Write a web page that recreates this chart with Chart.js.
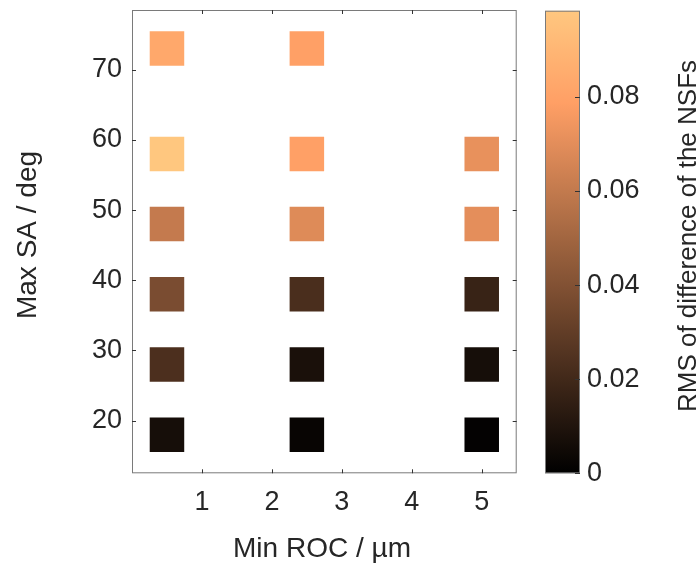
<!DOCTYPE html>
<html><head><meta charset="utf-8">
<script src="https://cdn.jsdelivr.net/npm/chart.js@4/dist/chart.umd.min.js"></script>
<style>
html,body{margin:0;padding:0;background:#fff;}
#wrap{position:relative;width:699px;height:565px;overflow:hidden;}
#c1{position:absolute;left:0;top:0;}
#c2{position:absolute;left:530px;top:0;}
</style></head><body>
<div id="wrap"><canvas id="c1" width="530" height="565"></canvas><canvas id="c2" width="169" height="565"></canvas></div>
<script>
// ---- data ----
const minROC  = [0.5, 0.5, 0.5, 0.5, 0.5, 0.5,  2.5, 2.5, 2.5, 2.5, 2.5, 2.5,  5, 5, 5, 5, 5];
const maxSA   = [18, 28, 38, 48, 58, 73,  18, 28, 38, 48, 58, 73,  18, 28, 38, 48, 58];
const rmsDiff = [0.0068, 0.0234, 0.0376, 0.0604, 0.0983, 0.0830,
                 0.0025, 0.0080, 0.0228, 0.0685, 0.0790, 0.0790,
                 0.0012, 0.0068, 0.0173, 0.0703, 0.0715];
const xTicks = [1, 2, 3, 4, 5];
const yTicks = [20, 30, 40, 50, 60, 70];
const cTicks = [0, 0.02, 0.04, 0.06, 0.08];
const xLabel = 'Min ROC / µm';
const yLabel = 'Max SA / deg';
const cLabel = 'RMS of difference of the NSFs';
const cMin = 0, cMax = 0.0983;

// ---- style ----
const FONT = "'Liberation Sans', Arial, Helvetica, sans-serif";
const TXT = '#262626';
const BOX = '#7a7a7a';
const TICK = '#333333';
const TICK_FS = 27, TITLE_FS = 28, CB_TITLE_FS = 26;
Chart.defaults.font.family = FONT;
Chart.defaults.color = TXT;
Chart.defaults.animation = false;

function copper(v) {
  const t = Math.max(0, Math.min(1, (v - cMin) / (cMax - cMin)));
  const r = Math.min(1, 1.25 * t), g = 0.7812 * t, b = 0.4975 * t;
  return `rgb(${Math.round(r*255)},${Math.round(g*255)},${Math.round(b*255)})`;
}
function noPad(s) { s.paddingTop = 0; s.paddingBottom = 0; s.paddingLeft = 0; s.paddingRight = 0; }

const boxPlugin = {
  id: 'boxPlugin',
  afterDraw(chart) {
    const {ctx, chartArea: a, scales} = chart;
    ctx.save();
    ctx.strokeStyle = BOX; ctx.lineWidth = 1;
    ctx.strokeRect(a.left + 0.5, a.top + 0.5, a.right - a.left - 1, a.bottom - a.top - 1);
    ctx.strokeStyle = TICK; ctx.beginPath();
    const L = 4;
    xTicks.forEach(v => {
      const px = Math.round(scales.x.getPixelForValue(v)) + 0.5;
      ctx.moveTo(px, a.bottom); ctx.lineTo(px, a.bottom - L);
      ctx.moveTo(px, a.top); ctx.lineTo(px, a.top + L);
    });
    yTicks.forEach(v => {
      const py = Math.round(scales.y.getPixelForValue(v)) + 0.5;
      ctx.moveTo(a.left, py); ctx.lineTo(a.left + L, py);
      ctx.moveTo(a.right, py); ctx.lineTo(a.right - L, py);
    });
    ctx.stroke();
    // titles
    ctx.fillStyle = TXT;
    ctx.font = `${TITLE_FS}px ${FONT}`;
    ctx.textAlign = 'center'; ctx.textBaseline = 'alphabetic';
    ctx.fillText(xLabel, 322, 556.5);
    ctx.translate(35.5, 235);
    ctx.rotate(-Math.PI / 2);
    ctx.fillText(yLabel, 0, 0);
    ctx.restore();
  }
};

new Chart(document.getElementById('c1'), {
  type: 'scatter',
  data: {
    datasets: [{
      data: minROC.map((x, i) => ({x, y: maxSA[i]})),
      pointStyle: 'rect',
      pointRadius: 24.4,
      pointHoverRadius: 24.4,
      pointBorderWidth: 0,
      backgroundColor: rmsDiff.map(copper),
      borderColor: rmsDiff.map(copper)
    }]
  },
  options: {
    responsive: false,
    devicePixelRatio: 1,
    layout: {autoPadding: false, padding: {left: 0, top: 10, right: 13.3, bottom: 0}},
    plugins: {legend: {display: false}, tooltip: {enabled: false}},
    scales: {
      x: {
        type: 'linear', min: 0, max: 5.5,
        afterBuildTicks: s => { s.ticks = xTicks.map(v => ({value: v})); },
        afterFit: s => { s.height = 565 - 473.3; noPad(s); },
        ticks: {font: {size: TICK_FS}, color: TXT, padding: 13, maxRotation: 0},
        grid: {display: false, drawTicks: false},
        border: {display: false}
      },
      y: {
        type: 'linear', min: 12.5, max: 78.5,
        afterBuildTicks: s => { s.ticks = yTicks.map(v => ({value: v})); },
        afterFit: s => { s.width = 132; noPad(s); },
        ticks: {font: {size: TICK_FS}, color: TXT, padding: 10},
        grid: {display: false, drawTicks: false},
        border: {display: false}
      }
    }
  },
  plugins: [boxPlugin]
});

const cbPlugin = {
  id: 'cbPlugin',
  afterDraw(chart) {
    const {ctx, chartArea: a, scales} = chart;
    ctx.save();
    ctx.strokeStyle = BOX; ctx.lineWidth = 1;
    ctx.strokeRect(a.left + 0.5, a.top + 0.5, a.right - a.left - 1, a.bottom - a.top - 1);
    ctx.strokeStyle = TICK; ctx.beginPath();
    cTicks.forEach(v => {
      const py = Math.round(scales.y.getPixelForValue(v)) + 0.5;
      ctx.moveTo(a.right, py); ctx.lineTo(a.right - 5, py);
    });
    ctx.stroke();
    ctx.fillStyle = TXT;
    ctx.font = `${CB_TITLE_FS}px ${FONT}`;
    ctx.textAlign = 'center'; ctx.textBaseline = 'alphabetic';
    ctx.translate(166, 236);
    ctx.rotate(-Math.PI / 2);
    ctx.fillText(cLabel, 0, 0);
    ctx.restore();
  }
};

new Chart(document.getElementById('c2'), {
  type: 'bar',
  data: {
    labels: [''],
    datasets: [{
      data: [[cMin, cMax]],
      borderWidth: 0,
      backgroundColor: ctx => {
        const ca = ctx.chart.chartArea;
        if (!ca) return '#000';
        const y = ctx.chart.scales.y;
        const g = ctx.chart.ctx.createLinearGradient(0, y.getPixelForValue(cMin), 0, y.getPixelForValue(cMax));
        for (let i = 0; i <= 20; i++) g.addColorStop(i / 20, copper(cMin + (cMax - cMin) * i / 20));
        return g;
      }
    }]
  },
  options: {
    responsive: false,
    devicePixelRatio: 1,
    layout: {autoPadding: false, padding: {left: 15, top: 10.7, right: 0, bottom: 565 - 473.3}},
    plugins: {legend: {display: false}, tooltip: {enabled: false}},
    datasets: {bar: {barPercentage: 1, categoryPercentage: 1}},
    scales: {
      x: {display: false},
      y: {
        position: 'right', min: cMin, max: cMax,
        afterBuildTicks: s => { s.ticks = cTicks.map(v => ({value: v})); },
        afterFit: s => { s.width = 119; noPad(s); },
        ticks: {font: {size: TICK_FS}, color: TXT, padding: 7,
                callback: v => v === 0 ? '0' : v.toFixed(2)},
        grid: {display: false, drawTicks: false},
        border: {display: false}
      }
    }
  },
  plugins: [cbPlugin]
});
</script>
</body></html>
